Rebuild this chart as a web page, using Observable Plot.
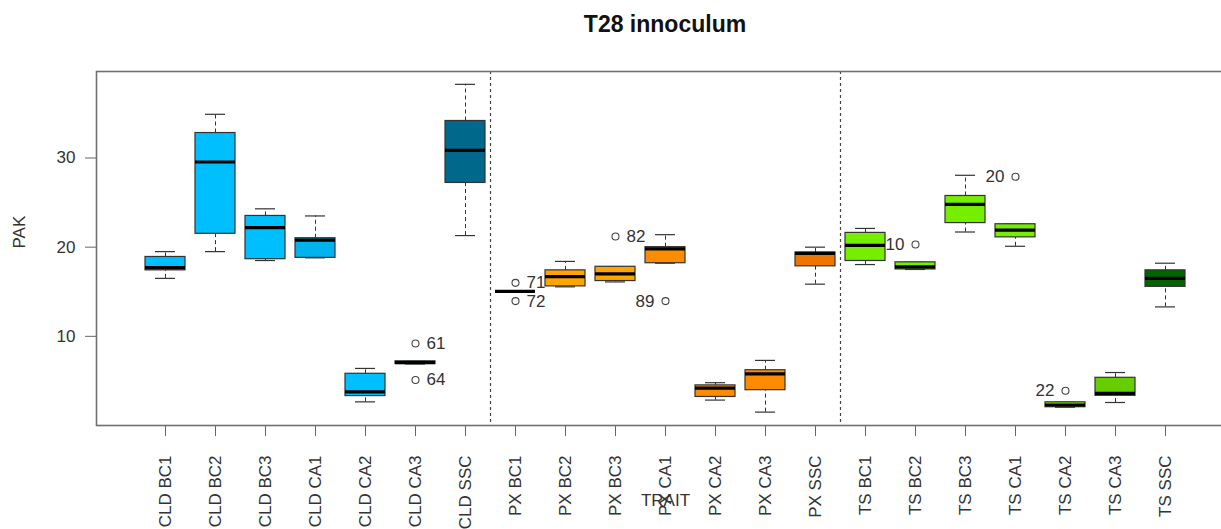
<!DOCTYPE html>
<html>
<head>
<meta charset="utf-8">
<script src="https://cdn.jsdelivr.net/npm/d3@7"></script>
<script src="https://cdn.jsdelivr.net/npm/@observablehq/plot@0.6"></script>
<style>
html, body { margin: 0; padding: 0; background: #fff; overflow: hidden; }
#wrap { position: relative; width: 1250px; height: 529px; }
#title { position: absolute; left: 665px; top: 13px; transform: translateX(-50%);
  font: bold 23px "Liberation Sans", Arial, sans-serif; line-height: 23px; color: #111; white-space: nowrap; }
#chart { position: absolute; left: 0; top: 50px; }
#chart svg { max-width: none !important; }
</style>
</head>
<body>
<div id="wrap">
  <div id="title">T28 innoculum</div>
  <div id="chart"></div>
</div>
<script>
// ---- data ----
const categories = ["CLD BC1","CLD BC2","CLD BC3","CLD CA1","CLD CA2","CLD CA3","CLD SSC",
  "PX BC1","PX BC2","PX BC3","PX CA1","PX CA2","PX CA3","PX SSC",
  "TS BC1","TS BC2","TS BC3","TS CA1","TS CA2","TS CA3","TS SSC"];
const lowerWhisker = [16.5, 19.5, 18.5, 18.8, 2.65, 6.9, 21.3, 15.05, 15.55, 16.1, 18.2, 2.85, 1.5, 15.85, 18.05, 17.5, 21.7, 20.1, 2.05, 2.58, 13.3];
const quartile1    = [17.4, 21.5, 18.65, 18.8, 3.3, 6.9, 27.2, 15.05, 15.6, 16.2, 18.2, 3.2, 3.96, 17.85, 18.45, 17.5, 22.7, 21.1, 2.05, 3.33, 15.55];
const medians      = [17.7, 29.55, 22.2, 20.8, 3.77, 7.05, 30.86, 15.05, 16.7, 17.0, 19.8, 4.2, 5.8, 19.3, 20.2, 17.8, 24.8, 21.9, 2.3, 3.6, 16.5];
const quartile3    = [18.9, 32.8, 23.5, 21.0, 5.8, 7.2, 34.15, 15.05, 17.4, 17.8, 20.0, 4.5, 6.2, 19.4, 21.6, 18.3, 25.74, 22.57, 2.6, 5.35, 17.4];
const upperWhisker = [19.5, 34.9, 24.3, 23.5, 6.4, 7.2, 38.26, 15.05, 18.4, 17.8, 21.4, 4.8, 7.3, 20.0, 22.1, 18.3, 28.06, 22.57, 2.6, 5.94, 18.2];
const boxColors = ["#00BFFF","#00BFFF","#00BFFF","#00B2EE","#00BFFF","#00BFFF","#00688B",
  "#FFA500","#FFA500","#FFA500","#FF8C00","#FF8C00","#FF8C00","#EE7600",
  "#76EE00","#76EE00","#76EE00","#76EE00","#76EE00","#66CD00","#006400"];

const outlierCategories = ["CLD CA3","CLD CA3","PX BC1","PX BC1","PX BC3","PX CA1","TS BC2","TS CA1","TS CA2"];
const outlierValues     = [9.2, 5.1, 16.0, 13.95, 21.2, 13.95, 20.3, 27.9, 3.9];
const outlierLabels     = ["61","64","71","72","82","89","10","20","22"];
const outlierSides      = ["right","right","right","right","right","left","left","left","left"];

const yTicks = [10, 20, 30];
const yLabel = "PAK";
const xLabel = "TRAIT";

// ---- build tables ----
const rows = categories.map((c, k) => ({
  cat: c, i: k + 1, lo: lowerWhisker[k], q1: quartile1[k], med: medians[k], q3: quartile3[k], hi: upperWhisker[k]
}));
const groupOf = c => c.split(" ")[0];
const separators = rows
  .filter((d, k) => k < rows.length - 1 && groupOf(d.cat) !== groupOf(rows[k + 1].cat))
  .map(d => d.i + 0.5);
const outliers = outlierCategories.map((c, k) => ({
  i: categories.indexOf(c) + 1, v: outlierValues[k], label: outlierLabels[k], side: outlierSides[k]
}));

const halfBox = 0.4, halfCap = 0.2, pad = 1.38;

const chart = Plot.plot({
  width: 1250,
  height: 479,
  marginLeft: 96,
  marginRight: 16,
  marginTop: 21,
  marginBottom: 104,
  x: {type: "linear", domain: [1 - pad, categories.length + pad], axis: null},
  y: {domain: [0, 39.7], axis: null},
  color: {type: "ordinal", domain: categories, range: boxColors},
  style: {fontFamily: "'Liberation Sans', Arial, sans-serif", fontSize: "17px", color: "#333", background: "#fff", maxWidth: "none"},
  marks: [
    Plot.ruleX(separators, {stroke: "#444", strokeDasharray: "3,3", strokeWidth: 1.2}),
    Plot.axisY({ticks: yTicks, tickSize: 11, tickPadding: 10, label: null, stroke: "#666", fill: "#333"}),
    Plot.axisX({ticks: rows.map(d => d.i), tickFormat: i => categories[i - 1], tickRotate: -90,
      tickSize: 11, tickPadding: 19, label: null, stroke: "#666", fill: "#333"}),
    Plot.text([yLabel], {frameAnchor: "left", dx: -77, rotate: -90, fill: "#333"}),
    Plot.text([xLabel], {frameAnchor: "bottom", dy: 80, fill: "#333"}),
    // outlier labels (drawn beneath the boxes, as in the reference)
    Plot.text(outliers.filter(d => d.side === "right"), {x: "i", y: "v", text: "label", textAnchor: "start", dx: 11, fill: "#333"}),
    Plot.text(outliers.filter(d => d.side === "left"), {x: "i", y: "v", text: "label", textAnchor: "end", dx: -11, fill: "#333"}),
    // whiskers
    Plot.ruleX(rows, {x: "i", y1: "lo", y2: "q1", stroke: "#333", strokeDasharray: "4,3"}),
    Plot.ruleX(rows, {x: "i", y1: "q3", y2: "hi", stroke: "#333", strokeDasharray: "4,3"}),
    Plot.ruleY(rows, {x1: d => d.i - halfCap, x2: d => d.i + halfCap, y: "lo", stroke: "#333", strokeWidth: 1.2}),
    Plot.ruleY(rows, {x1: d => d.i - halfCap, x2: d => d.i + halfCap, y: "hi", stroke: "#333", strokeWidth: 1.2}),
    // boxes
    Plot.rect(rows, {x1: d => d.i - halfBox, x2: d => d.i + halfBox, y1: "q1", y2: "q3", fill: "cat", stroke: "#333", strokeWidth: 1.2}),
    Plot.ruleY(rows, {x1: d => d.i - halfBox, x2: d => d.i + halfBox, y: "med", stroke: "#000", strokeWidth: 3.2}),
    // outliers
    Plot.dot(outliers, {x: "i", y: "v", r: 3.5, stroke: "#444", fill: "none", strokeWidth: 1.1}),
    Plot.frame({stroke: "#707070", strokeWidth: 1.6})
  ]
});
document.getElementById("chart").appendChild(chart);
</script>
</body>
</html>
